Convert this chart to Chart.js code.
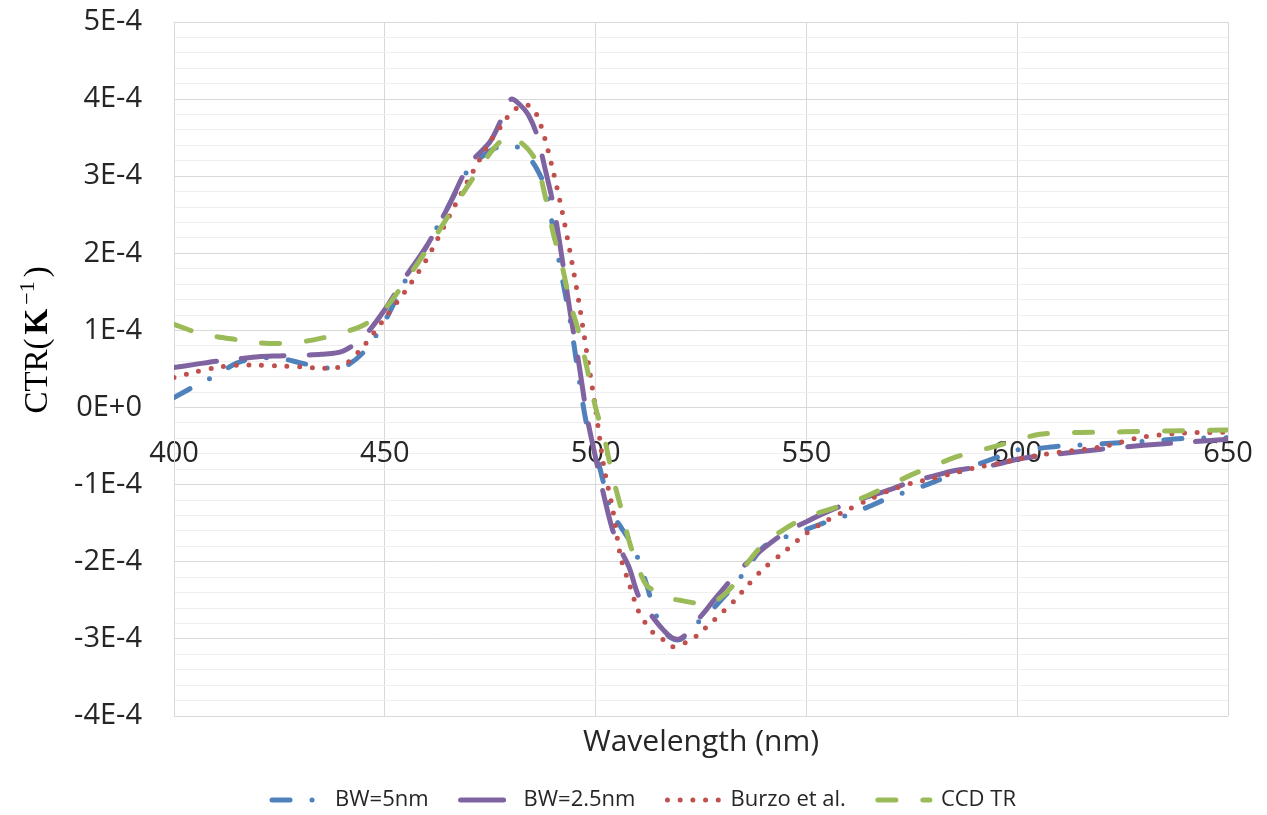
<!DOCTYPE html>
<html>
<head>
<meta charset="utf-8">
<script src="https://cdn.jsdelivr.net/npm/chart.js@4.4.0/dist/chart.umd.min.js"></script>
<style>
  html, body { margin: 0; padding: 0; background: #fff; }
  #wrap { width: 1267px; height: 815px; }
</style>
</head>
<body>
<div id="wrap"><canvas id="c"></canvas></div>
<script>
// wavelength grid (nm), values in units of 1E-4 K^-1
const wavelength = [
  400, 405, 410, 415, 420, 425, 430, 435, 440, 445,
  450, 455, 460, 465, 470, 475, 478, 480, 482, 484,
  486, 488, 490, 492, 494, 496, 498, 500, 502, 504,
  506, 508, 510, 512, 514, 516, 518, 520, 522, 524,
  526, 528, 530, 533, 536, 540, 545, 550, 555, 560,
  565, 570, 575, 580, 585, 590, 595, 600, 605, 610,
  620, 630, 640, 650
];

const bw5 = [
  0.13, 0.28, 0.42, 0.58, 0.64, 0.64, 0.58, 0.52, 0.52, 0.72,
  1.12, 1.66, 2.10, 2.60, 3.10, 3.33, 3.40, 3.41, 3.36, 3.26,
  3.10, 2.86, 2.30, 1.70, 1.12, 0.40, -0.25, -0.57, -1.00, -1.38,
  -1.55, -1.72, -1.95, -2.28, -2.64, -2.88, -2.99, -3.01, -2.93, -2.80,
  -2.70, -2.60, -2.48, -2.30, -2.08, -1.80, -1.68, -1.58, -1.48, -1.39,
  -1.28, -1.16, -1.07, -0.97, -0.86, -0.75, -0.65, -0.55, -0.53, -0.50,
  -0.47, -0.44, -0.40, -0.39
];

const bw25 = [
  0.52, 0.56, 0.60, 0.63, 0.66, 0.67, 0.68, 0.69, 0.73, 0.92,
  1.27, 1.70, 2.10, 2.60, 3.15, 3.45, 3.78, 4.00, 3.93, 3.80,
  3.55, 3.10, 2.62, 1.95, 1.22, 0.58, -0.13, -0.65, -1.15, -1.58,
  -1.85, -2.08, -2.42, -2.60, -2.75, -2.88, -2.98, -3.00, -2.91, -2.77,
  -2.64, -2.50, -2.37, -2.18, -2.01, -1.82, -1.62, -1.48, -1.35, -1.24,
  -1.15, -1.06, -0.96, -0.89, -0.82, -0.78, -0.74, -0.67, -0.63, -0.60,
  -0.54, -0.49, -0.45, -0.41
];

const burzo = [
  0.39, 0.46, 0.52, 0.55, 0.55, 0.54, 0.53, 0.51, 0.54, 0.80,
  1.16, 1.52, 1.93, 2.45, 2.97, 3.45, 3.68, 3.83, 3.90, 3.92,
  3.80, 3.48, 3.05, 2.56, 2.00, 1.38, 0.68, -0.02, -0.78, -1.30,
  -1.95, -2.29, -2.62, -2.81, -2.94, -3.01, -3.10, -3.08, -3.03, -2.96,
  -2.86, -2.76, -2.66, -2.50, -2.31, -2.08, -1.86, -1.63, -1.46, -1.32,
  -1.19, -1.07, -0.98, -0.92, -0.85, -0.78, -0.73, -0.67, -0.62, -0.58,
  -0.51, -0.38, -0.33, -0.32
];

const ccdTR = [
  1.08, 0.98, 0.92, 0.88, 0.84, 0.83, 0.85, 0.90, 0.97, 1.07,
  1.28, 1.65, 2.05, 2.48, 2.90, 3.30, 3.48, 3.52, 3.45, 3.35,
  3.18, 2.75, 2.25, 1.85, 1.35, 0.98, 0.50, 0.00, -0.38, -0.88,
  -1.30, -1.74, -2.06, -2.30, -2.38, -2.44, -2.48, -2.50, -2.52, -2.54,
  -2.56, -2.52, -2.45, -2.28, -2.02, -1.76, -1.57, -1.42, -1.33, -1.24,
  -1.13, -1.00, -0.87, -0.76, -0.65, -0.57, -0.50, -0.42, -0.35, -0.33,
  -0.32, -0.31, -0.30, -0.29
];

const seriesNames = ['BW=5nm', 'BW=2.5nm', 'Burzo et al.', 'CCD TR'];
const seriesColors = ['#4F81BD', '#8064A2', '#C0504D', '#9BBB59'];
const seriesDash = [[18, 22, 0, 22], [43, 25], [0, 12.7], [18, 27]];

const toPoints = arr => arr.map((v, i) => ({ x: wavelength[i], y: v }));
const isMajor = v => Math.abs(v - Math.round(v)) < 1e-6;

const datasets = [bw5, bw25, burzo, ccdTR].map((vals, i) => ({
  label: seriesNames[i],
  data: toPoints(vals),
  xAxisID: 'x',
  yAxisID: 'y',
  borderColor: seriesColors[i],
  backgroundColor: seriesColors[i],
  borderWidth: 5,
  borderDash: seriesDash[i],
  borderCapStyle: 'round',
  pointRadius: 0,
  tension: 0.3,
  fill: false,
  order: 4 - i
}));

// y title with bold K and superscript, like the original
const yTitle = {
  id: 'yTitle',
  afterDraw(chart) {
    const ctx = chart.ctx;
    const parts = [
      { t: 'CTR(', f: '33px "Liberation Serif"', dy: 0 },
      { t: 'K', f: 'bold 33px "Liberation Serif"', dy: 0 },
      { t: '\u22121', f: '22px "Liberation Serif"', dy: -13 },
      { t: ')', f: '33px "Liberation Serif"', dy: 0 }
    ];
    ctx.save();
    let total = 0;
    parts.forEach(p => { ctx.font = p.f; p.w = ctx.measureText(p.t).width + 4; total += p.w; });
    ctx.translate(47, 338);
    ctx.rotate(-Math.PI / 2);
    ctx.fillStyle = '#000';
    ctx.textBaseline = 'alphabetic';
    ctx.textAlign = 'left';
    let x = -total / 2;
    parts.forEach(p => { ctx.font = p.f; ctx.fillText(p.t, x, p.dy); x += p.w; });
    ctx.restore();
  }
};

new Chart(document.getElementById('c'), {
  type: 'line',
  data: { datasets },
  plugins: [yTitle],
  options: {
    responsive: true,
    maintainAspectRatio: false,
    animation: false,
    layout: { padding: { left: 60, right: 39, top: 22, bottom: -6 } },
    scales: {
      x: {
        type: 'linear',
        position: { y: 0 },
        min: 400,
        max: 650,
        border: { display: true, color: '#d9d9d9', width: 1 },
        grid: { color: '#d9d9d9', drawTicks: false },
        ticks: {
          stepSize: 50,
          padding: 29,
          color: '#262626',
          font: { family: '"Open Sans"', size: 29 },
          maxRotation: 0
        },
        afterFit: s => { s.paddingLeft = 0; s.paddingRight = 0; }
      },
      xt: {
        type: 'linear',
        position: 'bottom',
        min: 400,
        max: 650,
        grid: { display: false, drawTicks: false },
        border: { display: false },
        ticks: { display: false },
        title: {
          display: true,
          text: 'Wavelength (nm)',
          color: '#262626',
          padding: 0,
          font: { family: '"Open Sans"', size: 30, lineHeight: 1 }
        },
        afterFit: s => { s.height = 41; s.paddingLeft = 0; s.paddingRight = 0; }
      },
      y: {
        min: -4,
        max: 5,
        border: { display: true, color: '#d9d9d9' },
        grid: {
          drawTicks: false,
          color: c => isMajor(c.tick.value) ? '#d9d9d9' : '#efefef'
        },
        ticks: {
          stepSize: 0.2,
          autoSkip: false,
          padding: 32,
          color: '#262626',
          font: { family: '"Open Sans"', size: 29 },
          callback: v => {
            if (!isMajor(v)) return '';
            const n = Math.round(v);
            return n === 0 ? '0E+0' : n + 'E-4';
          }
        },
        afterFit: s => { s.width = 114; s.paddingTop = 0; s.paddingBottom = 0; }
      }
    },
    plugins: {
      tooltip: { enabled: false },
      legend: {
        position: 'bottom',
        labels: {
          usePointStyle: true,
          pointStyleWidth: 52,
          padding: 32,
          color: '#262626',
          font: { family: '"Open Sans"', size: 22 },
          generateLabels: chart => chart.data.datasets.map((d, i) => ({
            text: d.label,
            fillStyle: d.borderColor,
            strokeStyle: d.borderColor,
            lineWidth: d.borderWidth,
            lineDash: d.borderDash,
            lineCap: 'round',
            pointStyle: 'line',
            hidden: false,
            fontColor: '#262626',
            datasetIndex: i
          }))
        }
      }
    }
  }
});
</script>
</body>
</html>
